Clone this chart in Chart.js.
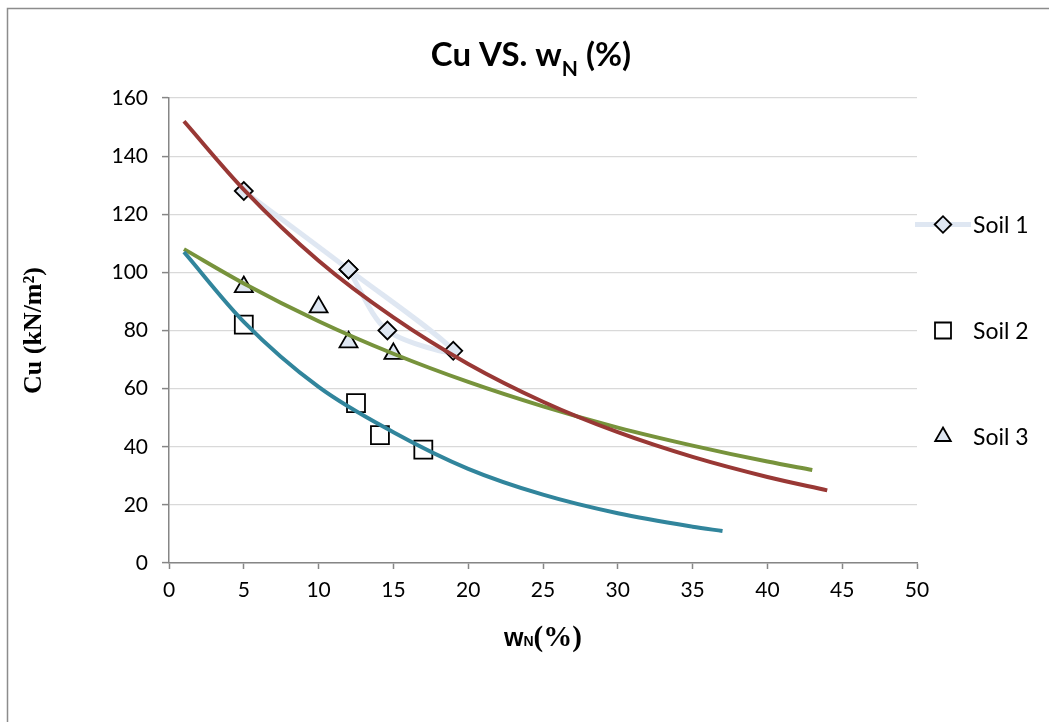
<!DOCTYPE html>
<html>
<head>
<meta charset="utf-8">
<script src="https://cdn.jsdelivr.net/npm/chart.js@4.4.1/dist/chart.umd.min.js"></script>
<style>
html,body{margin:0;padding:0;background:#fff;}
#wrap{width:1049px;height:722px;position:relative;}
</style>
</head>
<body>
<div id="wrap"><canvas id="c" width="1049" height="722"></canvas></div>
<script>
// ---- data ----
const soilNames = ['Soil 1', 'Soil 2', 'Soil 3'];
const soil1X = [5, 12, 19, 14.6, 12];
const soil1Y = [128, 101, 73, 80, 101];
const soil2X = [5, 12.5, 14.1, 17];
const soil2Y = [82, 55, 44, 39];
const soil3X = [5, 10, 12, 15];
const soil3Y = [95, 88, 76, 72];
// trendlines
const trend1X = [1, 5, 10, 15, 20, 25, 30, 35, 40, 44];
const trend1Y = [152, 128.5, 104, 84.5, 68.5, 55.5, 45, 36.5, 29.6, 25];
const trend2X = [1, 5, 10, 15, 20, 25, 30, 35, 37];
const trend2Y = [107, 83, 60.6, 45, 32.4, 23.5, 17.1, 12.5, 11];
const trend3X = [1, 5, 10, 15, 20, 25, 30, 35, 40, 43];
const trend3Y = [108, 96.2, 83.2, 72, 62.3, 53.9, 46.6, 40.4, 34.9, 32];
const chartTitle = ['Cu VS. w', 'N', ' (%)'];
const xTitle = ['w', 'N', '(%)'];
const yTitle = 'Cu (kN/m²)';

const pts = (xs, ys) => xs.map((x, i) => ({x: x, y: ys[i]}));

const SANS = 'Lato';
const SERIF = 'Liberation Serif';

function drawParts(ctx, parts, cx, baseY) {
  let total = 0;
  parts.forEach(p => { ctx.font = p.f; p.w = ctx.measureText(p.t).width; total += p.w; });
  let x = cx - total / 2;
  ctx.textAlign = 'left';
  ctx.textBaseline = 'alphabetic';
  parts.forEach(p => { ctx.font = p.f; ctx.fillText(p.t, x, baseY + p.dy); x += p.w; });
}

const framePlugin = {
  id: 'frame',
  beforeDraw(chart) {
    const ctx = chart.ctx;
    ctx.save();
    ctx.fillStyle = '#ffffff';
    ctx.fillRect(0, 0, chart.width, chart.height);
    ctx.strokeStyle = '#8c8c8c';
    ctx.lineWidth = 1.5;
    ctx.strokeRect(7.5, 8.5, 1200, 1000);
    ctx.restore();
  }
};

const textPlugin = {
  id: 'texts',
  afterDraw(chart) {
    const ctx = chart.ctx;
    ctx.save();
    ctx.fillStyle = '#000';
    drawParts(ctx, [
      {t: chartTitle[0], f: 'bold 33px ' + SANS, dy: 0},
      {t: chartTitle[1], f: 'bold 21px ' + SANS, dy: 10},
      {t: chartTitle[2], f: 'bold 33px ' + SANS, dy: 0}
    ], 531, 66);
    const xs = chart.scales.x;
    drawParts(ctx, [
      {t: xTitle[0], f: 'bold 25px Liberation Sans', dy: 0},
      {t: xTitle[1], f: 'bold 14px Liberation Sans', dy: 0},
      {t: xTitle[2], f: 'bold 29px ' + SERIF, dy: 0}
    ], (xs.left + xs.right) / 2, 646);
    ctx.restore();
  }
};

const legendPlugin = {
  id: 'sideLegend',
  afterDraw(chart) {
    const ctx = chart.ctx;
    const area = chart.chartArea;
    const cy = (area.top + area.bottom) / 2;
    const items = chart.data.datasets.filter(d => d.inLegend);
    const mx = 943;
    ctx.save();
    items.forEach((ds, k) => {
      const y = cy + (k - (items.length - 1) / 2) * 106;
      if (ds.showLine) {
        ctx.strokeStyle = ds.borderColor;
        ctx.lineWidth = ds.borderWidth;
        ctx.beginPath();
        ctx.moveTo(915, y);
        ctx.lineTo(971, y);
        ctx.stroke();
      }
      ctx.fillStyle = ds.pointBackgroundColor;
      ctx.strokeStyle = ds.pointBorderColor;
      ctx.lineWidth = ds.pointBorderWidth;
      Chart.helpers.drawPoint(ctx, {pointStyle: ds.pointStyle, radius: ds.legendRadius, borderWidth: ds.pointBorderWidth, rotation: 0}, mx, y);
      ctx.fillStyle = '#000';
      ctx.font = '23px ' + SANS;
      ctx.textAlign = 'left';
      ctx.textBaseline = 'middle';
      ctx.fillText(ds.label, 973, y + 1);
    });
    ctx.restore();
  }
};

const trendStyle = (color) => ({
  showLine: true, borderColor: color, backgroundColor: color, borderWidth: 4,
  pointRadius: 0, pointHoverRadius: 0, cubicInterpolationMode: 'monotone', order: 0, inLegend: false
});

const tickFont = {family: SANS, size: 21};

new Chart(document.getElementById('c').getContext('2d'), {
  type: 'scatter',
  data: {
    datasets: [
      {
        label: soilNames[0], data: pts(soil1X, soil1Y), showLine: true, tension: 0.3,
        borderColor: '#dfe7f2', borderWidth: 5,
        pointStyle: 'rectRot', pointRadius: 9, legendRadius: 8.3,
        pointBackgroundColor: '#dfe7f2', pointBorderColor: '#000', pointBorderWidth: 1.8,
        order: 1, inLegend: true
      },
      {
        label: soilNames[1], data: pts(soil2X, soil2Y), showLine: false,
        borderColor: '#000', backgroundColor: '#fff',
        pointStyle: 'rect', pointRadius: 12.7, legendRadius: 11.3,
        pointBackgroundColor: '#ffffff', pointBorderColor: '#000', pointBorderWidth: 1.8,
        order: 1, inLegend: true
      },
      {
        label: soilNames[2], data: pts(soil3X, soil3Y), showLine: false,
        borderColor: '#000', backgroundColor: '#dfe7f2',
        pointStyle: 'triangle', pointRadius: 10.4, legendRadius: 9,
        pointBackgroundColor: '#dfe7f2', pointBorderColor: '#000', pointBorderWidth: 1.8,
        order: 1, inLegend: true
      },
      Object.assign({label: 'Trend Soil 1', data: pts(trend1X, trend1Y)}, trendStyle('#993835')),
      Object.assign({label: 'Trend Soil 2', data: pts(trend2X, trend2Y)}, trendStyle('#31859c')),
      Object.assign({label: 'Trend Soil 3', data: pts(trend3X, trend3Y)}, trendStyle('#77933c'))
    ]
  },
  options: {
    responsive: false,
    animation: false,
    devicePixelRatio: 1,
    layout: {padding: {top: 98, bottom: 59, left: 0, right: 132}},
    plugins: {
      legend: {display: false},
      title: {display: false},
      tooltip: {enabled: false}
    },
    scales: {
      x: {
        type: 'linear', min: 0, max: 50,
        ticks: {stepSize: 5, color: '#000', font: tickFont, padding: 9},
        grid: {drawOnChartArea: false, drawTicks: true, tickLength: 6, tickColor: '#868686', tickWidth: 1.5},
        border: {color: '#868686', width: 1.5},
        afterFit(s) { s.height = 100; }
      },
      y: {
        type: 'linear', min: 0, max: 160,
        ticks: {stepSize: 20, color: '#000', font: tickFont, padding: 14},
        grid: {color: '#d9d9d9', lineWidth: 1.2, tickLength: 7, tickColor: '#868686', tickWidth: 1.5},
        border: {color: '#868686', width: 1.5},
        title: {display: true, text: yTitle, color: '#000', font: {family: SERIF, weight: 'bold', size: 26}, padding: {top: 19, bottom: 0}},
        afterFit(s) { s.width = 169; }
      }
    }
  },
  plugins: [framePlugin, textPlugin, legendPlugin]
});
</script>
</body>
</html>
